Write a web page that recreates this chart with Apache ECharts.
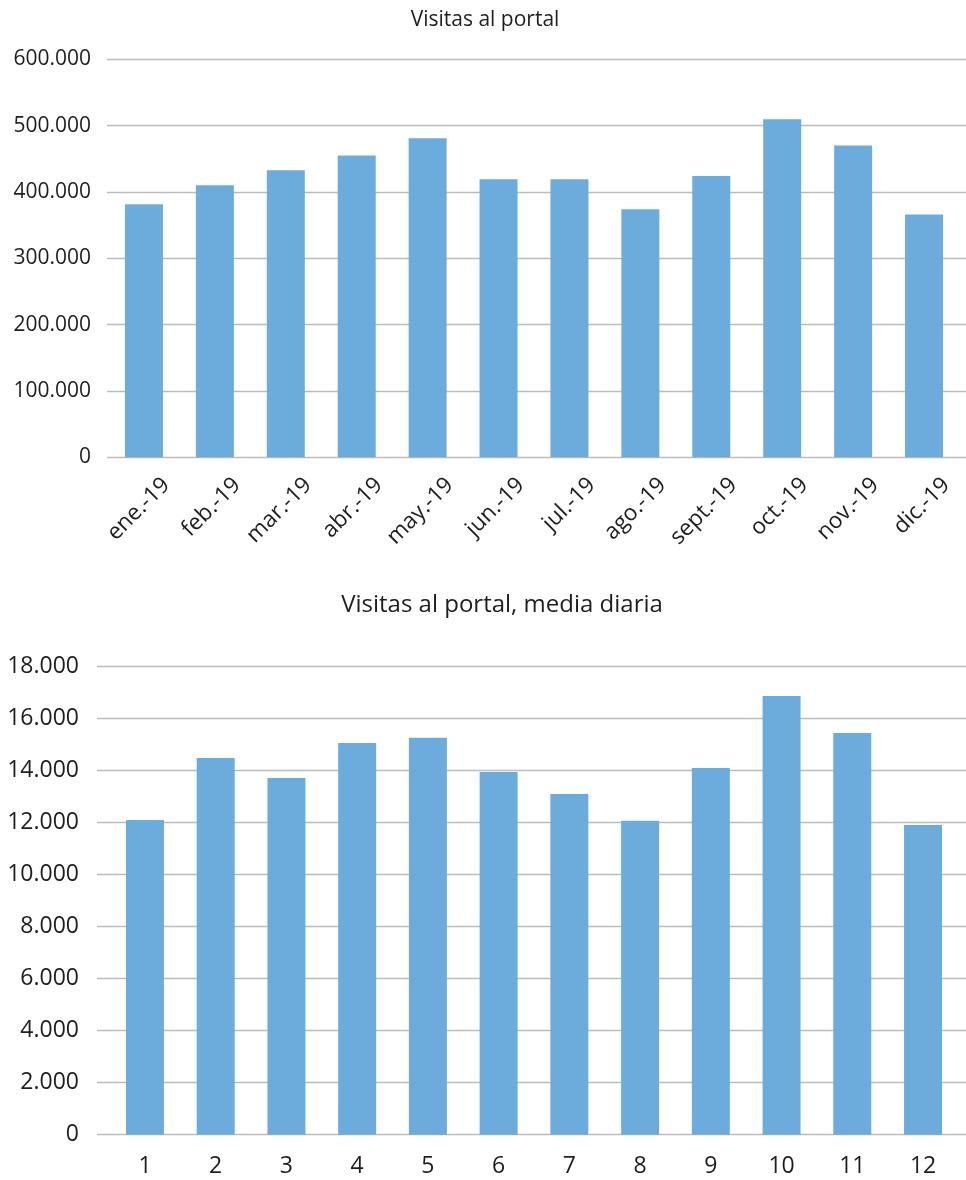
<!DOCTYPE html>
<html>
<head>
<meta charset="utf-8">
<title>Visitas al portal</title>
<script src="https://cdn.jsdelivr.net/npm/echarts@6/dist/echarts.min.js"></script>
<style>
  html, body { margin: 0; padding: 0; background: #fff; }
  #chart { width: 966px; height: 1180px; }
</style>
</head>
<body>
<div id="chart"></div>
<script>
// datos
const meses = ['ene.-19', 'feb.-19', 'mar.-19', 'abr.-19', 'may.-19', 'jun.-19',
  'jul.-19', 'ago.-19', 'sept.-19', 'oct.-19', 'nov.-19', 'dic.-19']
const visitas = [381500, 410000, 432700, 455000, 481000, 419000,
  419000, 374000, 424000, 509500, 470000, 366000]

const mesNum = ['1', '2', '3', '4', '5', '6', '7', '8', '9', '10', '11', '12']
const mediaDiaria = [12090, 14480, 13710, 15050, 15250, 13940,
  13090, 12060, 14090, 16860, 15440, 11900]

const visitasMax = 600000
const visitasStep = 100000
const mediaMax = 18000
const mediaStep = 2000

const chart = echarts.init(document.getElementById('chart'))

const FONT = '"Open Sans", "Noto Sans", sans-serif'
const TEXT = '#1e1e1e'
const GRID_LINE = '#bcbcbc'
const BAR = '#6cacdc'

// separador de miles con punto: 600000 -> 600.000
function miles (v) {
  return String(v).replace(/\B(?=(\d{3})+(?!\d))/g, '.')
}

const option = {
  animation: false,
  textStyle: { fontFamily: FONT },
  title: [
    {
      text: 'Visitas al portal',
      left: 480,
      textAlign: 'center',
      top: 5,
      textStyle: { fontFamily: FONT, fontSize: 21, fontWeight: 'normal', color: TEXT }
    },
    {
      text: 'Visitas al portal, media diaria',
      left: 497,
      textAlign: 'center',
      top: 588,
      textStyle: { fontFamily: FONT, fontSize: 24, fontWeight: 'normal', color: TEXT }
    }
  ],
  // grids 0 y 2 sólo dibujan las líneas de división (más anchas), 1 y 3 las barras
  grid: [
    { left: 107, right: 0, top: 59.3, height: 398 },
    { left: 108.5, right: 6.5, top: 59.3, height: 398 },
    { left: 97, right: 0, top: 666.3, height: 468.4 },
    { left: 109.6, right: 7.6, top: 666.3, height: 468.4 }
  ],
  xAxis: [
    { gridIndex: 0, type: 'category', data: meses, show: false },
    {
      gridIndex: 1,
      type: 'category',
      data: meses,
      axisLine: { show: false },
      axisTick: { show: false },
      axisLabel: {
        rotate: 45,
        margin: 2,
        interval: 0,
        verticalAlign: 'top',
        padding: [20, 0, 0, 0],
        fontSize: 22.5,
        color: TEXT,
        fontFamily: FONT
      }
    },
    { gridIndex: 2, type: 'category', data: mesNum, show: false },
    {
      gridIndex: 3,
      type: 'category',
      data: mesNum,
      axisLine: { show: false },
      axisTick: { show: false },
      axisLabel: {
        margin: 20,
        interval: 0,
        fontSize: 23,
        color: TEXT,
        fontFamily: FONT
      }
    }
  ],
  yAxis: [
    {
      gridIndex: 0,
      type: 'value',
      min: 0,
      max: visitasMax,
      interval: visitasStep,
      axisLine: { show: false },
      axisTick: { show: false },
      splitLine: { lineStyle: { color: GRID_LINE, width: 1.3 } },
      axisLabel: { margin: 16, fontSize: 21, color: TEXT, fontFamily: FONT, formatter: miles }
    },
    { gridIndex: 1, type: 'value', min: 0, max: visitasMax, interval: visitasStep, show: false, splitLine: { show: false } },
    {
      gridIndex: 2,
      type: 'value',
      min: 0,
      max: mediaMax,
      interval: mediaStep,
      axisLine: { show: false },
      axisTick: { show: false },
      splitLine: { lineStyle: { color: GRID_LINE, width: 1.3 } },
      axisLabel: { margin: 18, fontSize: 23, color: TEXT, fontFamily: FONT, formatter: miles }
    },
    { gridIndex: 3, type: 'value', min: 0, max: mediaMax, interval: mediaStep, show: false, splitLine: { show: false } }
  ],
  series: [
    {
      name: 'Visitas al portal',
      type: 'bar',
      xAxisIndex: 1,
      yAxisIndex: 1,
      barWidth: 38,
      itemStyle: { color: BAR },
      data: visitas
    },
    {
      name: 'Visitas al portal, media diaria',
      type: 'bar',
      xAxisIndex: 3,
      yAxisIndex: 3,
      barWidth: 38,
      itemStyle: { color: BAR },
      data: mediaDiaria
    }
  ]
}

chart.setOption(option)
</script>
</body>
</html>
